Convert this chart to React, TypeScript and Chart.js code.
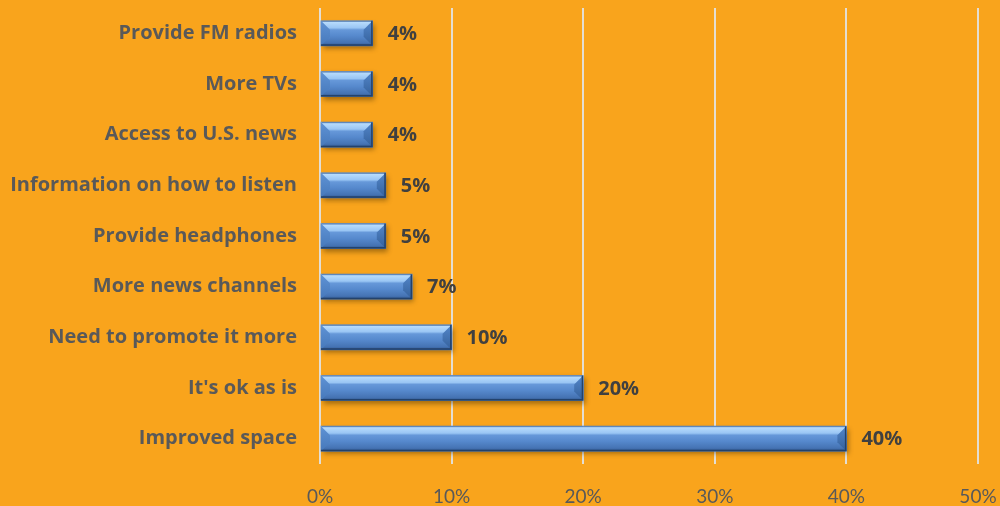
import React, { useEffect, useRef } from "react";
import { Chart, registerables } from "chart.js";

Chart.register(...registerables);

const categories = [
  "Provide FM radios",
  "More TVs",
  "Access to U.S. news",
  "Information on how to listen",
  "Provide headphones",
  "More news channels",
  "Need to promote it more",
  "It's ok as is",
  "Improved space",
];
const values = [4, 4, 4, 5, 5, 7, 10, 20, 40];
const xTicks = [0, 10, 20, 30, 40, 50];

const BG = "#F9A41C";
const LABEL_FONT = "'Open Sans', Lato, sans-serif";
const TICK_FONT = "Lato, 'Open Sans', sans-serif";

const bevelPlugin = {
  id: "bevel",
  beforeDatasetDraw(chart: any) {
    const ctx = chart.ctx;
    ctx.save();
    ctx.shadowColor = "rgba(60,40,0,0.45)";
    ctx.shadowBlur = 5;
    ctx.shadowOffsetX = 2;
    ctx.shadowOffsetY = 3;
  },
  afterDatasetDraw(chart: any) {
    const ctx = chart.ctx;
    ctx.restore();
    const meta = chart.getDatasetMeta(0);
    meta.data.forEach((bar: any) => {
      const { x, y, base, height } = bar.getProps(["x", "y", "base", "height"], true);
      const left = Math.min(x, base);
      const right = Math.max(x, base);
      const top = y - height / 2;
      const bottom = y + height / 2;
      const w = right - left;
      const d = Math.min(9, height / 2 - 1, w / 2);
      ctx.save();
      const g = ctx.createLinearGradient(0, top, 0, bottom);
      g.addColorStop(0, "#8fbff2");
      g.addColorStop(0.06, "#b7dbfc");
      g.addColorStop(0.28, "#9ac6f4");
      g.addColorStop(0.36, "#6698d9");
      g.addColorStop(0.6, "#5689cd");
      g.addColorStop(0.88, "#4573b3");
      g.addColorStop(1, "#2f558a");
      ctx.fillStyle = g;
      ctx.fillRect(left, top, w, height);
      // left facet
      ctx.beginPath();
      ctx.moveTo(left, top);
      ctx.lineTo(left + d, top + d);
      ctx.lineTo(left + d, bottom - d);
      ctx.lineTo(left, bottom);
      ctx.closePath();
      const gl = ctx.createLinearGradient(0, top, 0, bottom);
      gl.addColorStop(0, "#5f93d5");
      gl.addColorStop(1, "#4678ba");
      ctx.fillStyle = gl;
      ctx.fill();
      // right facet
      ctx.beginPath();
      ctx.moveTo(right, top);
      ctx.lineTo(right - d, top + d);
      ctx.lineTo(right - d, bottom - d);
      ctx.lineTo(right, bottom);
      ctx.closePath();
      const gr = ctx.createLinearGradient(0, top, 0, bottom);
      gr.addColorStop(0, "#5386c9");
      gr.addColorStop(1, "#34609b");
      ctx.fillStyle = gr;
      ctx.fill();
      // dark edges
      ctx.strokeStyle = "#23426c";
      ctx.lineWidth = 1.5;
      ctx.beginPath();
      ctx.moveTo(left, bottom - 0.75);
      ctx.lineTo(right - 0.75, bottom - 0.75);
      ctx.lineTo(right - 0.75, top);
      ctx.stroke();
      ctx.strokeStyle = "rgba(50,85,140,0.6)";
      ctx.lineWidth = 1;
      ctx.beginPath();
      ctx.moveTo(left + 0.5, top + 0.5);
      ctx.lineTo(right - 1, top + 0.5);
      ctx.stroke();
      ctx.restore();
    });
  },
  afterDatasetsDraw(chart: any) {
    const ctx = chart.ctx;
    const meta = chart.getDatasetMeta(0);
    ctx.save();
    ctx.font = `bold 20px ${LABEL_FONT}`;
    ctx.fillStyle = "#404040";
    ctx.textAlign = "left";
    ctx.textBaseline = "middle";
    meta.data.forEach((bar: any, i: number) => {
      const { x, y } = bar.getProps(["x", "y"], true);
      ctx.fillText(values[i] + "%", x + 15, y + 1);
    });
    ctx.restore();
  },
};

export default function App() {
  const ref = useRef<HTMLCanvasElement>(null);
  useEffect(() => {
    document.body.style.margin = "0";
    const chart = new Chart(ref.current!, {
      type: "bar",
      data: {
        labels: categories,
        datasets: [
          {
            data: values,
            backgroundColor: "#4f85c9",
            borderWidth: 0,
            barThickness: 25,
          },
        ],
      },
      options: {
        indexAxis: "y",
        animation: false,
        responsive: false,
        maintainAspectRatio: false,
        layout: { padding: { top: 8, right: 22, left: 0, bottom: 0 } },
        plugins: { legend: { display: false }, tooltip: { enabled: false } },
        scales: {
          x: {
            min: 0,
            max: 50,
            afterBuildTicks(scale: any) {
              scale.ticks = xTicks.map((v) => ({ value: v }));
            },
            afterFit(scale: any) {
              scale.height = 42;
              scale.paddingLeft = 0;
              scale.paddingRight = 0;
            },
            border: { display: false },
            grid: {
              color: "#e4ded3",
              lineWidth: 2,
              drawTicks: false,
            },
            ticks: {
              padding: 21,
              color: "#595959",
              font: { family: TICK_FONT, size: 19 },
              callback: (v: any) => v + "%",
            },
          },
          y: {
            afterFit(scale: any) {
              scale.width = 320;
              scale.paddingTop = 0;
              scale.paddingBottom = 0;
            },
            border: { display: false },
            grid: { display: false, drawTicks: false },
            ticks: {
              padding: 23,
              color: "#595959",
              font: { family: LABEL_FONT, size: 20, weight: "bold" },
            },
          },
        },
      },
      plugins: [bevelPlugin],
    });
    return () => chart.destroy();
  }, []);
  return (
    <div style={{ width: 1000, height: 506, background: BG }}>
      <canvas ref={ref} width={1000} height={506} style={{ display: "block" }} />
    </div>
  );
}
